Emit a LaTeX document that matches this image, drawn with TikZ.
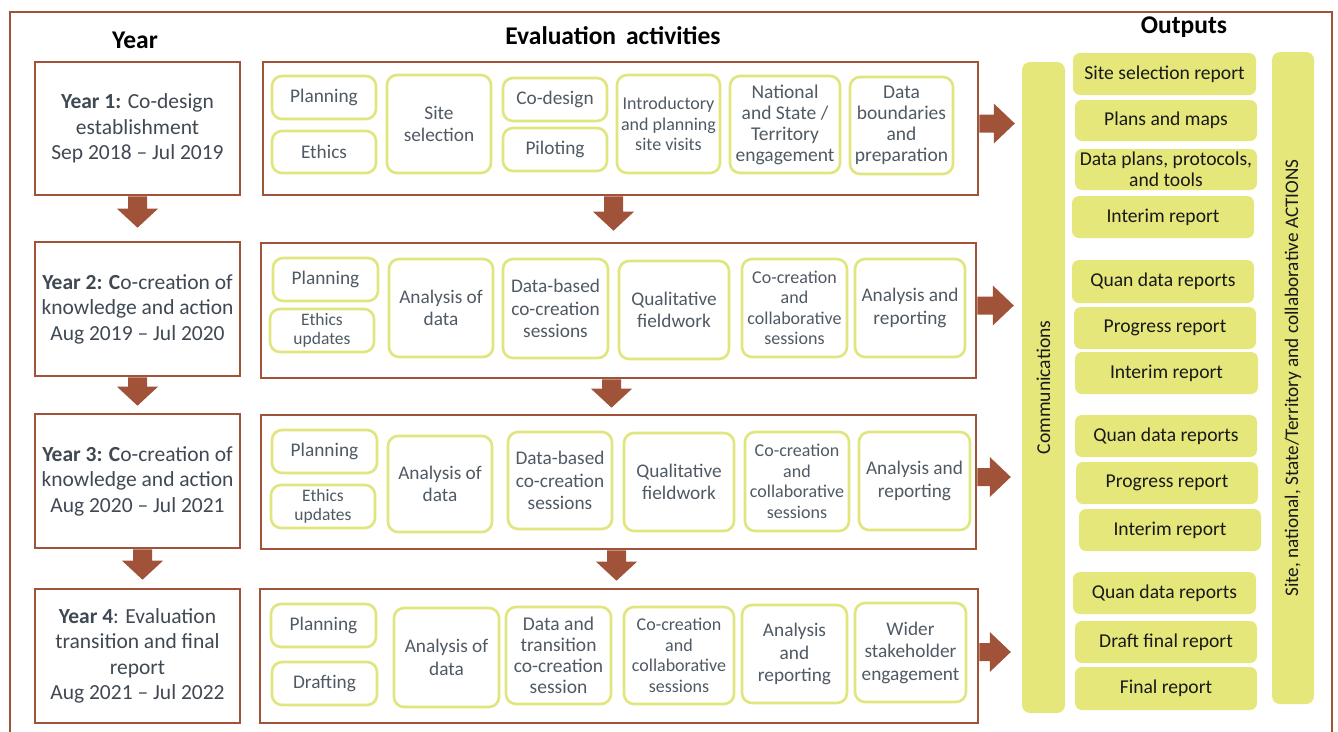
\documentclass[tikz,border=0pt]{standalone}
\usepackage{fontspec}
\usepackage{graphicx}
\setmainfont{Carlito}
\usetikzlibrary{calc}

\definecolor{frame}{RGB}{161,83,58}
\definecolor{leaf}{RGB}{229,231,122}
\definecolor{leafline}{RGB}{224,229,125}
\definecolor{acttext}{RGB}{80,90,100}
\definecolor{yeartext}{RGB}{64,73,83}
\definecolor{outtext}{RGB}{25,25,25}

% box spanning the corners (#3,#4)-(#5,#6)
\newcommand\boxat[7]{%
  \pgfmathsetmacro\boxW{#5-#3}\pgfmathsetmacro\boxH{#6-#4}%
  \node[#1, minimum width=\boxW pt, minimum height=\boxH pt] (#2)
    at ({(#3+#5)/2},{(#4+#6)/2}) {#7};}
% thick down arrow from point #1 to tip #2
\newcommand\downblock[2]{\fill[frame] let \p1=(#1), \p2=(#2) in
  (\x1-9.5pt,\y1) -- (\x1+9.5pt,\y1) -- (\x1+9.5pt,\y2+19pt) -- (\x1+20.5pt,\y2+19pt)
  -- (\x1,\y2) -- (\x1-20.5pt,\y2+19pt) -- (\x1-9.5pt,\y2+19pt) -- cycle;}
% thick right arrow from point #1 to tip #2
\newcommand\rightblock[2]{\fill[frame] let \p1=(#1), \p2=(#2) in
  (\x1,\y1+9pt) -- (\x2-21pt,\y1+9pt) -- (\x2-21pt,\y1+20pt) -- (\x2,\y1)
  -- (\x2-21pt,\y1-20pt) -- (\x2-21pt,\y1-9pt) -- (\x1,\y1-9pt) -- cycle;}

\begin{document}
\begin{tikzpicture}[x=1pt,y=-1pt,
  yearbox/.style={draw=frame, line width=2.6pt, inner sep=0pt, align=center,
    text=yeartext, font=\fontsize{21.5}{25.5}\selectfont},
  stagebox/.style={draw=frame, line width=2.6pt, inner sep=0pt},
  act/.style={draw=leafline, line width=2.6pt, rounded corners=10pt, inner sep=0pt,
    align=center, text=acttext, font=\fontsize{19.3}{22.5}\selectfont},
  actmid/.style={act, font=\fontsize{19.5}{21}\selectfont},
  actsm/.style={act, font=\fontsize{18}{20.5}\selectfont},
  actxs/.style={act, font=\fontsize{17.5}{19}\selectfont},
  outbox/.style={fill=leaf, rounded corners=7pt, inner sep=0pt, align=center,
    text=outtext, font=\fontsize{19.6}{21}\selectfont},
  bar/.style={fill=leaf, rounded corners=8pt, inner sep=0pt, text=outtext},
  head/.style={font=\bfseries\fontsize{25.5}{28}\selectfont, text=black},
]
\useasboundingbox (0,0) rectangle (1338,731);
\fill[white] (0,0) rectangle (1338,731);

% outer frame
\draw[frame, line width=2.6pt] (10,745) -- (10,12) -- (1332,12) -- (1332,745);

% column headings
\node[head] (hyear) at (135,40) {Year};
\node[head] (hact) at (613,36) {Evaluation\, activities};
\node[head] (hout) at (1184,27) {Outputs};

% year boxes
\boxat{yearbox}{y1}{35}{62}{240}{195}{\textbf{Year 1:} Co-design\\establishment\\Sep 2018 – Jul 2019}
\boxat{yearbox}{y2}{35}{242}{240}{376}{\textbf{Year 2: C}o-creation of\\knowledge and action\\Aug 2019 – Jul 2020}
\boxat{yearbox}{y3}{35}{414}{240}{548}{\textbf{Year 3: C}o-creation of\\knowledge and action\\Aug 2020 – Jul 2021}
\boxat{yearbox}{y4}{35}{589}{240}{723}{\textbf{Year 4}: Evaluation\\transition and final\\report\\Aug 2021 – Jul 2022}

% stage frames
\boxat{stagebox}{r1}{263}{62}{978}{195}{}
\boxat{stagebox}{r2}{261}{243}{976}{378}{}
\boxat{stagebox}{r3}{261}{415}{976}{549}{}
\boxat{stagebox}{r4}{260}{589}{978}{723}{}

% year 1 activities
\boxat{act}{a11}{272}{76}{376}{119}{Planning}
\boxat{act}{a12}{272}{131}{376}{173}{Ethics}
\boxat{act}{a13}{387}{75}{491}{173}{Site\\selection}
\boxat{act}{a14}{503}{78}{607}{121}{Co-design}
\boxat{act}{a15}{503}{128}{607}{171}{Piloting}
\boxat{actsm}{a16}{617}{75}{720}{173}{Introductory\\and planning\\site visits}
\boxat{actmid}{a17}{730}{76}{840}{173}{National\\and State /\\Territory\\engagement}
\boxat{actmid}{a18}{850}{77}{953}{174}{Data\\boundaries\\and\\preparation}

% year 2 activities
\boxat{act}{a21}{273}{258}{378}{301}{Planning}
\boxat{actxs}{a22}{270}{309}{374}{352}{Ethics\\updates}
\boxat{act}{a23}{389}{259}{493}{357}{Analysis of\\data}
\boxat{act}{a24}{503}{259}{608}{358}{Data-based\\co-creation\\sessions}
\boxat{act}{a25}{619}{261}{729}{359}{Qualitative\\fieldwork}
\boxat{actsm}{a26}{742}{259}{847}{357}{Co-creation\\and\\collaborative\\sessions}
\boxat{act}{a27}{855}{259}{965}{357}{Analysis and\\reporting}

% year 3 activities
\boxat{act}{a31}{272}{430}{377}{473}{Planning}
\boxat{actxs}{a32}{271}{485}{375}{528}{Ethics\\updates}
\boxat{act}{a33}{388}{436}{492}{532}{Analysis of\\data}
\boxat{act}{a34}{508}{432}{612}{529}{Data-based\\co-creation\\sessions}
\boxat{act}{a35}{624}{433}{734}{531}{Qualitative\\fieldwork}
\boxat{actsm}{a36}{745}{432}{849}{531}{Co-creation\\and\\collaborative\\sessions}
\boxat{act}{a37}{859}{432}{970}{530}{Analysis and\\reporting}

% year 4 activities
\boxat{act}{a41}{271}{604}{376}{647}{Planning}
\boxat{act}{a42}{272}{662}{377}{705}{Drafting}
\boxat{act}{a43}{394}{608}{499}{707}{Analysis of\\data}
\boxat{actmid}{a44}{506}{607}{611}{704}{Data and\\transition\\co-creation\\session}
\boxat{actsm}{a45}{624}{607}{734}{704}{Co-creation\\and\\collaborative\\sessions}
\boxat{act}{a46}{742}{605}{847}{703}{Analysis\\and\\reporting}
\boxat{act}{a47}{855}{603}{966}{702}{Wider\\stakeholder\\engagement}

% side bars
\boxat{bar}{comm}{1022}{62}{1065}{713}{\fontsize{19.6}{20}\selectfont\rotatebox{90}{Communications}}
\boxat{bar}{acts}{1272}{52}{1314}{704}{\fontsize{19.2}{20}\selectfont\rotatebox{90}{Site, national, State/Territory and collaborative ACTIONS}}

% outputs
\boxat{outbox}{o1}{1073}{53}{1256}{95}{Site selection report}
\boxat{outbox}{o2}{1075}{100}{1257}{141}{Plans and maps}
\boxat{outbox}{o3}{1075}{149}{1257}{190}{Data plans, protocols,\\and tools}
\boxat{outbox}{o4}{1072}{196}{1254}{238}{Interim report}
\boxat{outbox}{o5}{1072}{260}{1254}{303}{Quan data reports}
\boxat{outbox}{o6}{1074}{307}{1256}{349}{Progress report}
\boxat{outbox}{o7}{1075}{352}{1258}{394}{Interim report}
\boxat{outbox}{o8}{1075}{415}{1257}{457}{Quan data reports}
\boxat{outbox}{o9}{1076}{462}{1258}{504}{Progress report}
\boxat{outbox}{o10}{1079}{509}{1261}{551}{Interim report}
\boxat{outbox}{o11}{1073}{572}{1256}{614}{Quan data reports}
\boxat{outbox}{o12}{1075}{621}{1257}{663}{Draft final report}
\boxat{outbox}{o13}{1075}{667}{1257}{710}{Final report}

% year to year arrows
\downblock{y1.south}{[yshift=13pt]y2.north}
\downblock{y2.south}{[yshift=7pt]y3.north}
\downblock{[xshift=5pt]y3.south}{[yshift=8pt]y4.north}

% stage to stage arrows
\downblock{[xshift=-7pt]r1.south}{[yshift=11pt]r2.north}
\downblock{[xshift=-7pt]r2.south}{[yshift=6pt]r3.north}
\downblock{[xshift=-2pt]r3.south}{[yshift=7pt]r4.north}

% stages feed communications
\rightblock{[yshift=5pt]r1.east}{[xshift=-7pt]comm.west}
\rightblock{[yshift=5pt]r2.east}{[xshift=-8pt]comm.west}
\rightblock{[yshift=5pt]r3.east}{[xshift=-11pt]comm.west}
\rightblock{[yshift=4pt]r4.east}{[xshift=-11pt]comm.west}
\end{tikzpicture}
\end{document}
